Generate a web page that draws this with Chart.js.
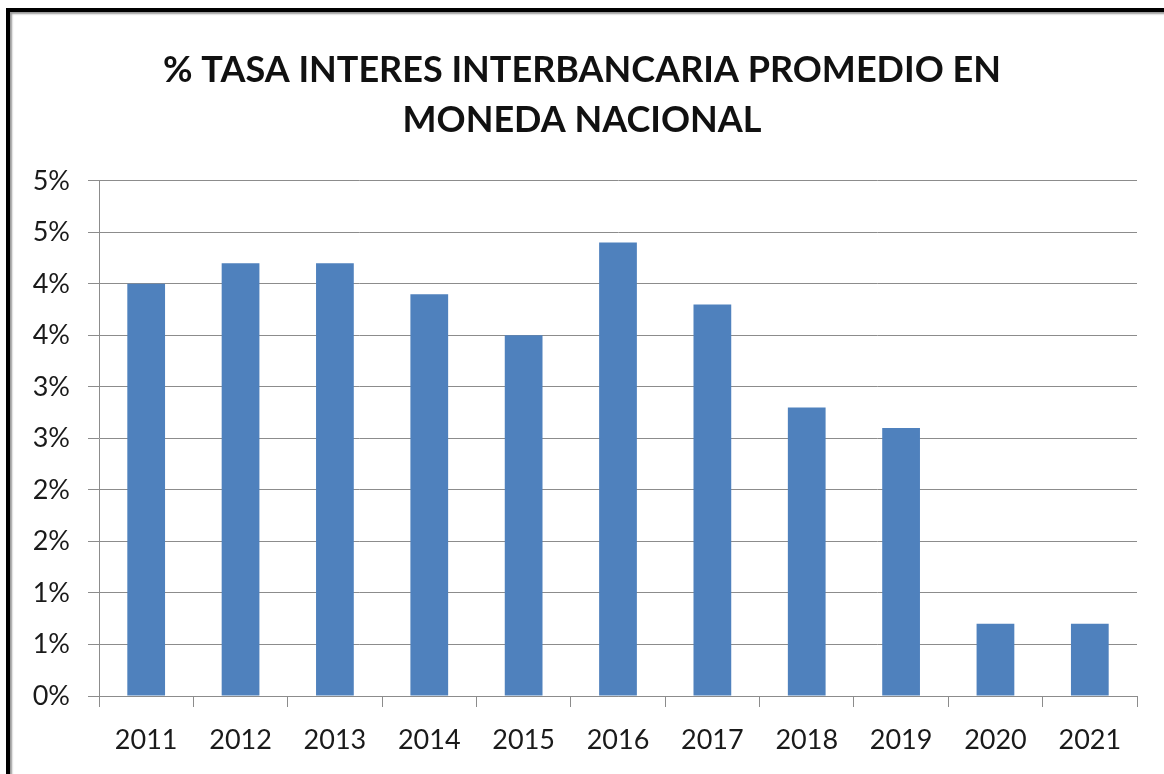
<!DOCTYPE html>
<html>
<head>
<meta charset="utf-8">
<script src="https://cdn.jsdelivr.net/npm/chart.js@4"></script>
<style>
  html, body { margin: 0; padding: 0; background: #fff; overflow: hidden; }
  #frame {
    position: absolute; left: 6px; top: 8px; width: 1300px; height: 900px;
    border-left: 4px solid #000; border-top: 4px solid #000;
    box-shadow: 2px 2px 2px #999 inset;
  }
  #wrap { position: absolute; left: 0; top: 0; width: 1164px; height: 774px; }
</style>
</head>
<body>
<div id="frame"></div>
<div id="wrap"><canvas id="myChart"></canvas></div>
<script>
var years = ['2011', '2012', '2013', '2014', '2015', '2016', '2017', '2018', '2019', '2020', '2021'];
var tasa = [4.0, 4.2, 4.2, 3.9, 3.5, 4.4, 3.8, 2.8, 2.6, 0.7, 0.7];
var chartTitle = ['% TASA INTERES INTERBANCARIA PROMEDIO EN', 'MONEDA NACIONAL'];

function BuildChart(labels, values, title) {
  var ctx = document.getElementById('myChart').getContext('2d');
  var myChart = new Chart(ctx, {
    type: 'bar',
    data: {
      labels: labels,
      datasets: [{
        data: values,
        backgroundColor: '#4f81bd',
        barPercentage: 0.4,
        categoryPercentage: 1.0
      }]
    },
    options: {
      responsive: true,
      maintainAspectRatio: false,
      animation: false,
      layout: { padding: { left: 0, right: 0, top: 0, bottom: 0 } },
      plugins: {
        legend: { display: false },
        tooltip: { enabled: false },
        title: {
          display: true,
          text: title,
          color: '#111',
          font: { family: 'Lato', size: 36, weight: 'bold', lineHeight: 1.4 },
          padding: { top: 45, bottom: 35 }
        }
      },
      scales: {
        x: {
          grid: { drawOnChartArea: false, drawTicks: true, tickLength: 11, color: '#8c8c8c' },
          border: { color: '#8c8c8c', width: 1 },
          ticks: { color: '#1a1a1a', padding: 20, font: { family: 'Lato', size: 27, lineHeight: 1 } }
        },
        y: {
          min: 0,
          max: 5,
          afterFit: function(scale) { scale.width = 99; },
          grid: { color: '#8c8c8c', tickLength: 11 },
          border: { color: '#8c8c8c', width: 1 },
          ticks: {
            stepSize: 0.5,
            color: '#1a1a1a',
            padding: 18,
            font: { family: 'Lato', size: 27 },
            callback: function(v) { return Math.round(v) + '%'; }
          }
        },
        // empty right margin so the title stays centred on the whole frame
        yRight: {
          position: 'right',
          afterFit: function(scale) { scale.width = 27; },
          grid: { display: false },
          border: { display: false },
          ticks: { display: false }
        }
      }
    }
  });
  return myChart;
}

BuildChart(years, tasa, chartTitle);
</script>
</body>
</html>
